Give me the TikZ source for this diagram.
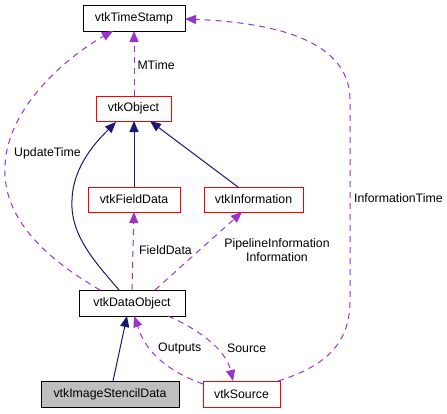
\documentclass[tikz,border=0pt]{standalone}
\usepackage{fontspec}
\setmainfont{Liberation Sans}
\usetikzlibrary{arrows.meta}
\definecolor{edgepurple}{HTML}{9A32CD}
\definecolor{navy}{HTML}{191970}
\definecolor{boxgray}{HTML}{BFBFBF}
\begin{document}
\begin{tikzpicture}[x=1pt,y=-1pt,
  font=\fontsize{12.3}{14}\selectfont,
  box/.style={draw=black,line width=1pt,inner sep=0pt,minimum height=26pt,fill=white},
  redbox/.style={box,draw=red},
  grayfill/.style={box,fill=boxgray},
  usage/.style={draw=edgepurple,line width=1pt,dash pattern=on 6pt off 5pt,-{Triangle[length=11pt,width=9pt,fill=edgepurple]}},
  inherit/.style={draw=navy,line width=1pt,-{Triangle[length=11pt,width=9pt,fill=navy]}},
  lbl/.style={inner sep=0pt,align=center}]
\useasboundingbox (0,0) rectangle (447,413);
\node[box,minimum width=102pt] (ts) at (134,18) {vtkTimeStamp};
\node[redbox,minimum width=75pt,minimum height=25pt] (obj) at (133.5,108.5) {vtkObject};
\node[redbox,minimum width=92pt,minimum height=25pt] (fd) at (134,199.5) {vtkFieldData};
\node[redbox,minimum width=99pt,minimum height=25pt] (inf) at (253.5,199.5) {vtkInformation};
\node[box,minimum width=106pt] (do) at (132,303) {vtkDataObject};
\node[grayfill,minimum width=138pt] (isd) at (110,394) {vtkImageStencilData};
\node[redbox,minimum width=77pt] (src) at (241.5,394) {vtkSource};
% coordinates
\coordinate (doUL) at (100,290);
\coordinate (doInh) at (119,290);
\coordinate (doR) at (155,290);
\coordinate (doBL) at (134,316);
\coordinate (doBR) at (168,316);
\coordinate (tsBL) at (113,31);
\coordinate (tsB) at (134,31);
\coordinate (tsR) at (185,19);
\coordinate (objBL) at (116,122);
\coordinate (objB) at (134,121);
\coordinate (objBR) at (150,121);
\coordinate (fdB) at (134,212);
\coordinate (fdT) at (134,187);
\coordinate (infT) at (238,187);
\coordinate (infB) at (242,212);
\coordinate (srcL) at (203,384);
\coordinate (srcT) at (233,381);
\coordinate (srcR) at (278,381);
\coordinate (isdT) at (113,381);
\coordinate (doBI) at (127,316);
% inheritance
\draw[inherit] (fdT) -- (objB);
\draw[inherit] (infT) -- (objBR);
\draw[inherit] (doInh) .. controls (95,262) and (70,235) .. (72,200) .. controls (73,165) and (98,140) .. (objBL);
\draw[inherit] (isdT) -- (doBI);
% usage
\draw[usage] (objB |- obj.north) -- (tsB) node[lbl,pos=0.47,right=3pt] {MTime};
\draw[usage] (doUL) .. controls (40,255) and (2,215) .. (5,165) .. controls (8,105) and (70,55) .. (tsBL);
\node[lbl,anchor=west] (ut) at (14,153) {UpdateTime};
\draw[usage] (srcR) .. controls (330,365) and (350,340) .. (350,300) -- (350,100) .. controls (350,35) and (260,22) .. (tsR);
\node[lbl,anchor=west] (it) at (354,198) {InformationTime};
\draw[usage] (132,290) -- (fdB);
\node[lbl,anchor=west] (fdl) at (139,250) {FieldData};
\draw[usage] (doR) -- (infB);
\node[lbl] (pil) at (277,250.5) {PipelineInformation\\Information};
\draw[usage] (srcL) .. controls (170,372) and (150,355) .. (141,335) -- (doBL);
\node[lbl,anchor=west] (outl) at (158,348) {Outputs};
\draw[usage] (doBR) .. controls (200,330) and (226,350) .. (srcT);
\node[lbl,anchor=west] (srcl) at (227,348) {Source};
\end{tikzpicture}
\end{document}
